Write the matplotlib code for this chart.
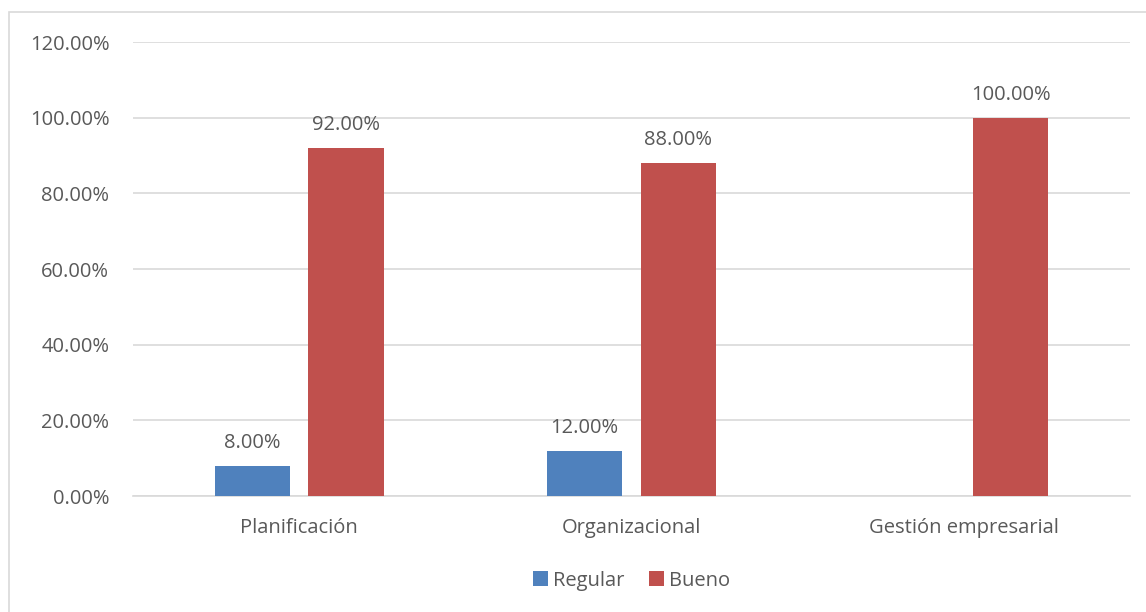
import matplotlib.pyplot as plt
import numpy as np
from matplotlib.patches import Rectangle

categories = ["Planificación", "Organizacional", "Gestión empresarial"]
regular = [0.08, 0.12, 0.0]
bueno = [0.92, 0.88, 1.00]
series_names = ["Regular", "Bueno"]
y_ticks = [0.0, 0.2, 0.4, 0.6, 0.8, 1.0, 1.2]

plt.rcParams['font.family'] = ['Open Sans', 'DejaVu Sans']
text_color = '#595959'
colors = ['#4F81BD', '#C0504D']
fs = 14.5

fig = plt.figure(figsize=(11.46, 6.12), dpi=100)
ax = fig.add_axes([0.116, 0.1895, 0.870, 0.7415])

# outer chart frame
fig.patches.append(Rectangle((0.008, -0.01), 1.0, 0.99, transform=fig.transFigure,
                             fill=False, edgecolor='#D9D9D9', linewidth=1.2))

x = np.arange(len(categories))
width = 0.226
offset = 0.141
for vals, dx, color, name in [(regular, -offset, colors[0], series_names[0]),
                              (bueno, offset, colors[1], series_names[1])]:
    bars = ax.bar(x + dx, vals, width, color=color, label=name, zorder=3)
    for b, v in zip(bars, vals):
        if v > 0:
            ax.text(b.get_x() + b.get_width() / 2, v + 0.034, f"{v * 100:.2f}%",
                    ha='center', va='bottom', fontsize=fs, color=text_color)

ax.set_xlim(-0.5, len(categories) - 0.5)
ax.set_ylim(0, 1.2)
ax.set_yticks(y_ticks)
ax.set_yticklabels([f"{t * 100:.2f}%" for t in y_ticks])
ax.set_xticks(x)
ax.set_xticklabels(categories)
ax.tick_params(axis='both', length=0, labelsize=fs, colors=text_color)
ax.tick_params(axis='y', pad=17)
ax.tick_params(axis='x', pad=16)
ax.grid(axis='y', color='#D9D9D9', linewidth=1.2, zorder=0)
for s in ['top', 'right', 'left']:
    ax.spines[s].set_visible(False)
ax.spines['bottom'].set_color('#D9D9D9')
ax.spines['bottom'].set_linewidth(1.2)

ax.legend(loc='upper center', bbox_to_anchor=(0.5, -0.125), ncol=2, frameon=False,
          fontsize=fs, labelcolor=text_color, handlelength=0.75, handleheight=0.75,
          handletextpad=0.25, columnspacing=1.2)

fig.savefig("out.png", dpi=100)
